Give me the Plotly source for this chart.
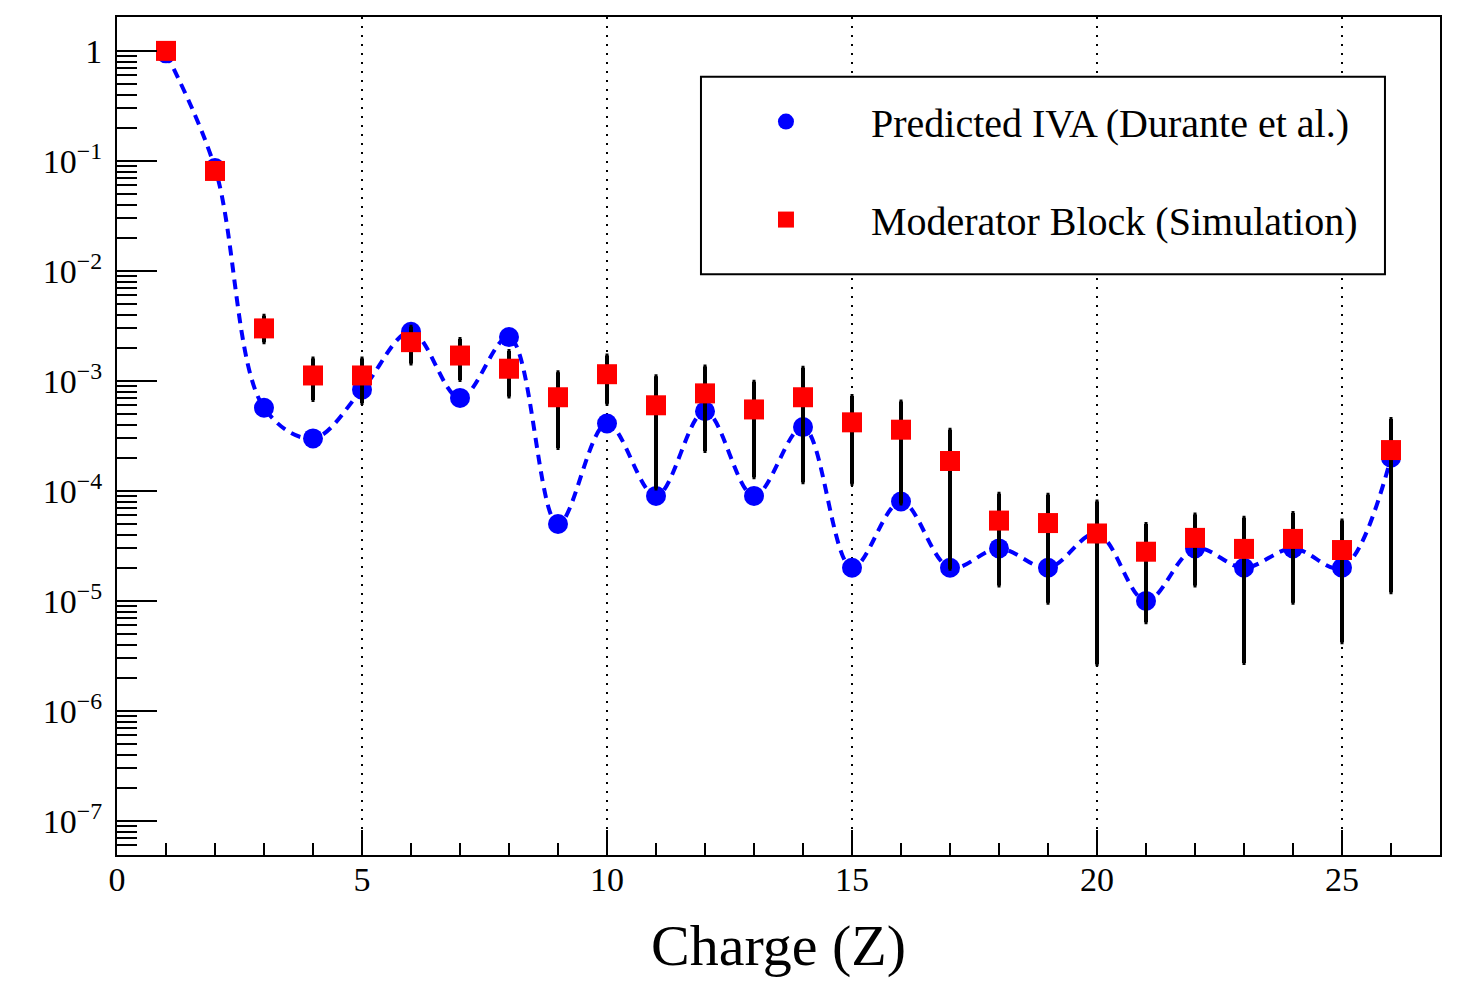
import plotly.graph_objects as go

# ---- data ----
charge = list(range(1, 27))

iva_pred = [0.95, 0.086, 5.7e-4, 3.0e-4, 8.3e-4, 2.8e-3, 7.0e-4, 2.5e-3, 5.0e-5, 4.1e-4,
            9.0e-5, 5.3e-4, 9.0e-5, 3.8e-4, 2.0e-5, 8.0e-5, 2.0e-5, 3.0e-5, 2.0e-5, 4.1e-5,
            1.0e-5, 3.0e-5, 2.0e-5, 3.0e-5, 2.0e-5, 2.0e-4]

mod_sim = [1.0, 0.081, 3.0e-3, 1.12e-3, 1.12e-3, 2.25e-3, 1.7e-3, 1.29e-3, 7.1e-4, 1.15e-3,
           6.0e-4, 7.7e-4, 5.5e-4, 7.1e-4, 4.2e-4, 3.6e-4, 1.87e-4, 5.37e-5, 5.1e-5, 4.1e-5,
           2.8e-5, 3.74e-5, 2.97e-5, 3.66e-5, 2.9e-5, 2.35e-4]

mod_upper = [1.0, 0.081, 3.9e-3, 1.6e-3, 1.6e-3, 3.1e-3, 2.4e-3, 1.87e-3, 1.2e-3, 1.7e-3,
             1.1e-3, 1.35e-3, 9.8e-4, 1.32e-3, 7.3e-4, 6.5e-4, 3.6e-4, 9.4e-5, 9.2e-5, 8.0e-5,
             5.0e-5, 6.1e-5, 5.7e-5, 6.3e-5, 5.37e-5, 4.5e-4]

mod_lower = [1.0, 0.081, 2.25e-3, 6.7e-4, 6.3e-4, 1.44e-3, 1.02e-3, 7.2e-4, 2.45e-4, 6.2e-4,
             1.05e-4, 2.3e-4, 1.33e-4, 1.2e-4, 1.16e-4, 7.7e-5, 1.96e-5, 1.38e-5, 9.6e-6, 2.65e-6,
             6.4e-6, 1.38e-5, 2.73e-6, 9.6e-6, 4.2e-6, 1.2e-5]

y_exponents = [0, -1, -2, -3, -4, -5, -6, -7]
y_ticktext = ["1"] + ["10<sup>\u2212%d</sup>" % (-e) for e in y_exponents[1:]]
x_tickvals = [0, 5, 10, 15, 20, 25]

err_plus = [u - v for u, v in zip(mod_upper, mod_sim)]
err_minus = [v - l for v, l in zip(mod_sim, mod_lower)]

FONT = "'Liberation Serif', 'Times New Roman', serif"

fig = go.Figure()

# smooth dashed curve (no legend entry)
fig.add_trace(go.Scatter(
    x=charge, y=iva_pred, mode="lines", showlegend=False, hoverinfo="skip",
    line=dict(color="#0000ff", width=4, dash="10px,7px", shape="spline", smoothing=1.0),
))

fig.add_trace(go.Scatter(
    x=charge, y=iva_pred, mode="markers",
    name="Predicted IVA (Durante et al.)",
    marker=dict(symbol="circle", size=20, color="#0000ff"),
    legendgroup="a",
))

fig.add_trace(go.Scatter(
    x=charge, y=mod_sim, mode="markers",
    name="Moderator Block (Simulation)",
    marker=dict(symbol="square", size=20, color="#ff0000"),
    error_y=dict(type="data", symmetric=False, array=err_plus, arrayminus=err_minus,
                 color="black", thickness=4, width=1.5),
    legendgroup="b",
))

minor_y = [k * 10.0 ** e for e in range(-8, 1) for k in range(2, 10)]
minor_y = [v for v in minor_y if 4.9e-8 < v < 2.0]

# legend frame (paper coords)
fig.add_shape(type="rect", xref="paper", yref="paper",
              x0=0.4414, x1=0.9584, y0=0.6929, y1=0.9286,
              line=dict(color="black", width=2), fillcolor="white", layer="above")

fig.update_layout(
    width=1453, height=986,
    paper_bgcolor="white", plot_bgcolor="white",
    margin=dict(l=109, r=21, t=7, b=139),
    font=dict(family=FONT, color="black", size=34),
    showlegend=True,
    legend=dict(
        x=0.4414, y=0.914, xanchor="left", yanchor="top",
        bgcolor="rgba(0,0,0,0)", borderwidth=0,
        font=dict(family=FONT, size=40, color="black"),
        itemwidth=160, tracegroupgap=43, traceorder="grouped",
        itemclick=False, itemdoubleclick=False,
    ),
    xaxis=dict(
        range=[0, 27], tickvals=x_tickvals,
        ticks="inside", ticklen=25, tickwidth=2, tickcolor="black",
        showline=True, linecolor="black", linewidth=2, mirror=True,
        showgrid=True, gridcolor="black", griddash="2px,7px", gridwidth=2,
        zeroline=False, ticklabelstandoff=-7,
        tickfont=dict(family=FONT, size=34),
        minor=dict(dtick=1, ticks="inside", ticklen=12, tickwidth=2, tickcolor="black", showgrid=False),
        title=dict(text="Charge (Z)", font=dict(family=FONT, size=58), standoff=28),
    ),
    yaxis=dict(
        type="log", range=[-7.31, 0.308],
        tickvals=[10.0 ** e for e in y_exponents], ticktext=y_ticktext,
        ticks="inside", ticklen=40, tickwidth=2, tickcolor="black",
        showline=True, linecolor="black", linewidth=2, mirror=True,
        showgrid=False, zeroline=False, ticklabelstandoff=6,
        tickfont=dict(family=FONT, size=34),
        minor=dict(tickvals=minor_y, ticks="inside", ticklen=20, tickwidth=2, tickcolor="black", showgrid=False),
    ),
)

fig.write_html("out.html")
